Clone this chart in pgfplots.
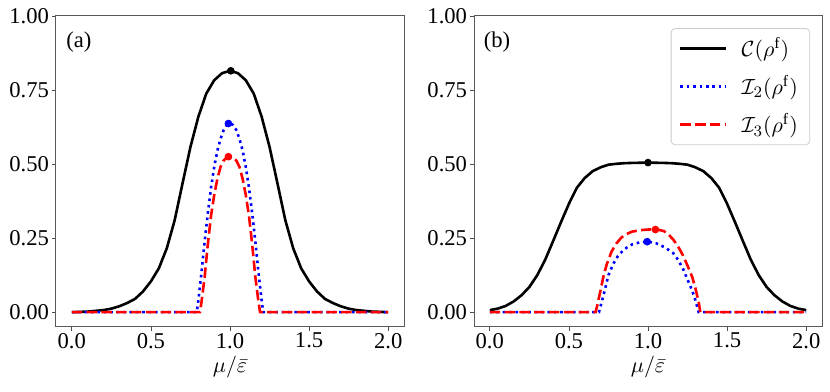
\documentclass[border=0pt]{standalone}
\usepackage{fontspec}
\setmainfont{Liberation Serif}
\usepackage{pgfplots}
\pgfplotsset{compat=1.18}

\pgfplotsset{
  panel/.style={
    scale only axis, width=174pt, height=155.5pt,
    xmin=-0.1, xmax=2.1, ymin=-0.05, ymax=1.0,
    xtick={0,0.5,1,1.5,2}, ytick={0,0.25,0.5,0.75,1},
    xticklabel={\pgfmathprintnumber[fixed,fixed zerofill,precision=1]{\tick}},
    yticklabel={\pgfmathprintnumber[fixed,fixed zerofill,precision=2]{\tick}},
    /pgf/number format/assume math mode=true,
    tick pos=left, tick align=outside, major tick length=1.8pt,
    tick style={black!70, line width=0.4pt},
    axis line style={black!65, line width=0.5pt},
    xticklabel style={inner sep=1pt},
    yticklabel style={inner sep=1.5pt},
    xlabel={$\mu/\bar{\varepsilon}$},
    xlabel style={at={(axis description cs:0.5,-0.128)}, anchor=center, inner sep=0pt},
  },
  cc/.style={black, line width=1.3pt},
  i2/.style={blue, line width=1.3pt, dash pattern=on 1.3pt off 1.9pt},
  i3/.style={red, line width=1.3pt, dash pattern=on 5.2pt off 2.2pt},
  dot/.style={only marks, mark=*, mark size=1.7pt, forget plot},
}

\begin{document}
\begin{tikzpicture}[font=\fontsize{11.3}{13.5}\selectfont]
\path[use as bounding box] (-28pt,-32pt) rectangle (387pt,163.5pt);

% panel (a)
\begin{axis}[panel, at={(0,0)}, anchor=south west]
\addplot[cc] coordinates {
  (0,0) (0.1,0.002) (0.2,0.007) (0.25,0.012) (0.3,0.02) (0.35,0.031)
  (0.4,0.045) (0.45,0.07) (0.5,0.104) (0.55,0.148) (0.6,0.215) (0.65,0.31)
  (0.7,0.435) (0.75,0.558) (0.8,0.66) (0.85,0.738) (0.9,0.783) (0.95,0.807)
  (1.0,0.815)
  (1.05,0.807) (1.1,0.783) (1.15,0.738) (1.2,0.66) (1.25,0.558) (1.3,0.435)
  (1.35,0.31) (1.4,0.215) (1.45,0.148) (1.5,0.104) (1.55,0.07) (1.6,0.045)
  (1.65,0.031) (1.7,0.02) (1.75,0.012) (1.8,0.007) (1.9,0.002) (2.0,0) };
\addplot[i2] coordinates {
  (0,0) (0.79,0) (0.80,0.04) (0.82,0.135) (0.84,0.24) (0.86,0.335)
  (0.88,0.42) (0.90,0.49) (0.92,0.545) (0.94,0.585) (0.96,0.615)
  (0.98,0.632) (1.0,0.637) (1.02,0.632) (1.04,0.615) (1.06,0.585)
  (1.08,0.545) (1.10,0.49) (1.12,0.42) (1.14,0.335) (1.16,0.24)
  (1.18,0.135) (1.20,0.04) (1.21,0) (2.0,0) };
\addplot[i3] coordinates {
  (0,0) (0.81,0) (0.82,0.035) (0.84,0.12) (0.86,0.23) (0.88,0.325)
  (0.90,0.395) (0.92,0.45) (0.94,0.49) (0.96,0.512) (0.98,0.523)
  (1.0,0.525) (1.02,0.523) (1.04,0.512) (1.06,0.49) (1.08,0.45)
  (1.10,0.395) (1.12,0.325) (1.14,0.23) (1.16,0.12) (1.18,0.035)
  (1.19,0) (2.0,0) };
\addplot[dot, black] coordinates {(1.005,0.815)};
\addplot[dot, blue] coordinates {(0.99,0.637)};
\addplot[dot, red] coordinates {(0.99,0.525)};
\node at (rel axis cs:0.066,0.915) {(a)};
\end{axis}

% panel (b)
\begin{axis}[panel, at={(209pt,0)}, anchor=south west,
  legend style={at={(0.966,0.961)}, anchor=north east,
    draw=black!20, rounded corners=2pt, fill=white,
    inner xsep=4pt, inner ysep=2.5pt, row sep=4pt,
    /tikz/every odd column/.append style={column sep=5pt}},
  legend cell align=left,
  legend image code/.code={\draw[#1] (0pt,0pt) -- (23pt,0pt);},
]
\addplot[cc] coordinates {
  (0,0.007) (0.05,0.012) (0.1,0.021) (0.15,0.036) (0.2,0.057) (0.25,0.085)
  (0.3,0.125) (0.35,0.177) (0.4,0.24) (0.45,0.304) (0.5,0.366) (0.55,0.42)
  (0.6,0.453) (0.65,0.476) (0.7,0.489) (0.75,0.498) (0.8,0.501)
  (0.85,0.503) (0.9,0.504) (1.0,0.505)
  (1.1,0.504) (1.15,0.503) (1.2,0.501) (1.25,0.498) (1.3,0.489)
  (1.35,0.476) (1.4,0.453) (1.45,0.42) (1.5,0.366) (1.55,0.304)
  (1.6,0.24) (1.65,0.177) (1.7,0.125) (1.75,0.085) (1.8,0.057)
  (1.85,0.036) (1.9,0.021) (1.95,0.012) (2.0,0.007) };
\addlegendentry{$\mathcal{C}(\rho^{\mathrm{f}})$}
\addplot[i2] coordinates {
  (0,0) (0.69,0) (0.70,0.02) (0.72,0.06) (0.75,0.125) (0.78,0.163)
  (0.81,0.19) (0.84,0.207) (0.87,0.22) (0.9,0.229) (0.95,0.236)
  (1.0,0.238) (1.05,0.233) (1.08,0.226) (1.12,0.214) (1.16,0.199)
  (1.19,0.177) (1.22,0.148) (1.25,0.11) (1.28,0.072) (1.30,0.04)
  (1.32,0) (2.0,0) };
\addlegendentry{$\mathcal{I}_2(\rho^{\mathrm{f}})$}
\addplot[i3] coordinates {
  (0,0) (0.669,0) (0.68,0.025) (0.70,0.074) (0.72,0.125) (0.74,0.163)
  (0.77,0.205) (0.80,0.232) (0.83,0.251) (0.86,0.263) (0.9,0.272)
  (0.95,0.277) (1.0,0.279) (1.05,0.28) (1.1,0.274) (1.13,0.262)
  (1.16,0.245) (1.19,0.222) (1.22,0.193) (1.25,0.157) (1.28,0.118)
  (1.30,0.08) (1.32,0.035) (1.331,0) (2.0,0) };
\addlegendentry{$\mathcal{I}_3(\rho^{\mathrm{f}})$}
\addplot[dot, black] coordinates {(1.0,0.505)};
\addplot[dot, blue] coordinates {(0.995,0.238)};
\addplot[dot, red] coordinates {(1.047,0.279)};
\node at (rel axis cs:0.066,0.915) {(b)};
\end{axis}
\end{tikzpicture}
\end{document}
